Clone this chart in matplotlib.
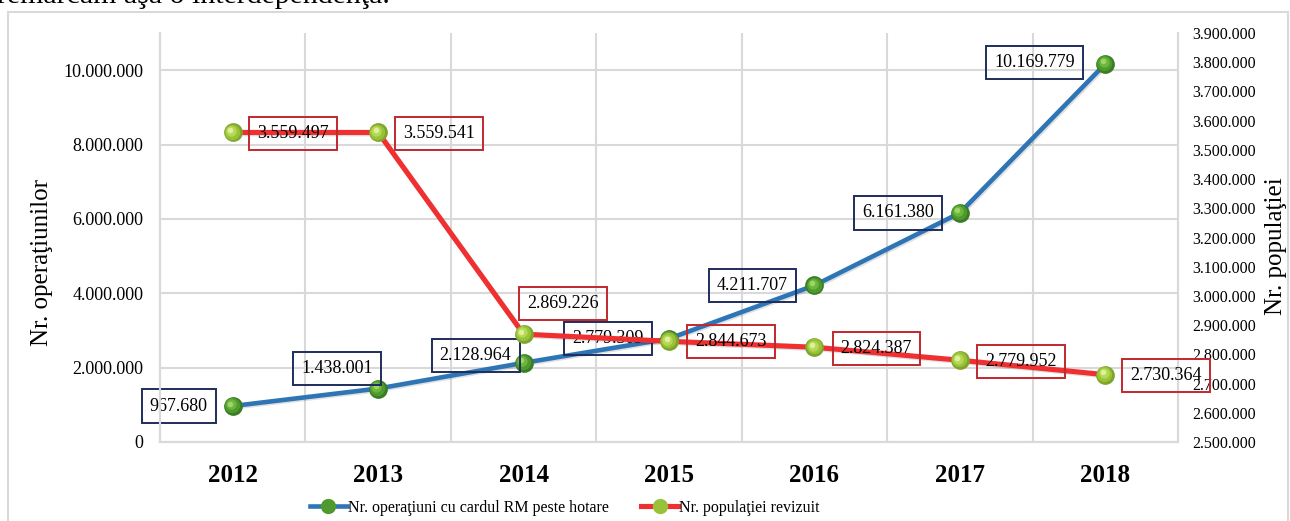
import matplotlib
matplotlib.use("Agg")
import matplotlib.pyplot as plt
from matplotlib.ticker import FuncFormatter, MultipleLocator
from matplotlib.transforms import offset_copy
from matplotlib.lines import Line2D
from matplotlib.patches import Rectangle
import matplotlib.patheffects as pe

plt.rcParams['font.family'] = ['Liberation Serif', 'DejaVu Serif']

# data
years = ['2012', '2013', '2014', '2015', '2016', '2017', '2018']
operatiuni = [967680, 1438001, 2128964, 2779309, 4211707, 6161380, 10169779]
populatie = [3559497, 3559541, 2869226, 2844673, 2824387, 2779952, 2730364]
ops_label = 'Nr. operaţiuni cu cardul RM peste hotare'
pop_label = 'Nr. populaţiei revizuit'

# label offsets (pixels) from each point
ops_off = [(-54, 0), (-41, 20), (-48, 7), (-61, 0), (-62, 0), (-62, 0), (-71, 1)]
pop_off = [(60, -1), (61, -1), (39, 31), (62, 0), (62, -1), (61, -1), (61, -1)]

W, H = 1290, 521
fig = plt.figure(figsize=(W / 100, H / 100), dpi=100)
fig.patch.set_facecolor('white')

# outer chart border
fig.patches.append(Rectangle((8 / W, -0.1), 1280 / W, (H - 12) / H + 0.1,
                             transform=fig.transFigure, fill=False,
                             edgecolor='#d9d9d9', lw=1.5))
# clipped body text above the chart (cut off in the source too)
fig.text(-3 / W, 1 - 3 / H, 'remarcăm aşa o interdependenţă.', fontsize=21.5,
         va='baseline', ha='left', color='black')

ax = fig.add_axes([160 / W, (H - 442) / H, 1018 / W, 409 / H])
ax2 = ax.twinx()

x = list(range(len(years)))
ax.set_xlim(-0.5, 6.5)
ax.set_ylim(0, 11000000)
ax2.set_ylim(2500000, 3900000)
ax.yaxis.set_major_locator(MultipleLocator(2000000))
fmt = FuncFormatter(lambda v, p: f"{int(round(v)):,}".replace(",", "."))
ax.yaxis.set_major_formatter(fmt)
ax2.yaxis.set_major_formatter(fmt)
ax2.set_yticks([t for t in range(2500000, 3900001, 100000)])

ax.set_xticks(x)
ax.set_xticklabels(years, fontsize=18, fontweight='bold')
ax.tick_params(axis='x', length=0, pad=16)
ax.tick_params(axis='y', length=0, pad=12, labelsize=13)
ax2.tick_params(axis='y', length=0, pad=10, labelsize=11.5)

grid_c = '#d9d9d9'
ax.grid(axis='y', color=grid_c, lw=1.5)
for xv in [i + 0.5 for i in range(6)]:
    ax.axvline(xv, color=grid_c, lw=1.5, zorder=0.5)
ax.set_axisbelow(True)
for a in (ax, ax2):
    a.spines['top'].set_visible(False)
    for s in ('left', 'right', 'bottom'):
        a.spines[s].set_color(grid_c)
        a.spines[s].set_linewidth(1.5)

shadow = [pe.SimpleLineShadow(offset=(1, -1), alpha=0.12), pe.Normal()]
ax.plot(x, operatiuni, color='#2e75b6', lw=3.3, zorder=3, path_effects=shadow,
        solid_capstyle='round')
ax2.plot(x, populatie, color='#f03030', lw=3.7, zorder=3, path_effects=shadow,
         solid_capstyle='round')


def spheres(a, xs, ys, layers):
    for size, color, d in layers:
        tr = offset_copy(a.transData, fig=fig, x=-d, y=d, units='points')
        a.plot(xs, ys, 'o', ms=size, mfc=color, mec='none', transform=tr,
               zorder=4)


spheres(ax, x, operatiuni, [(13.5, '#3a7d25', 0), (11, '#4f9a2e', 0.6),
                            (7.5, '#6cb63c', 1.2), (4, '#9ed46a', 1.8)])
spheres(ax2, x, populatie, [(13.5, '#7ea52a', 0), (11, '#98c23a', 0.6),
                            (7.5, '#b6d955', 1.2), (4, '#def09a', 1.8)])


def labels(a, xs, ys, offs, edge):
    for xi, yi, (dx, dy) in zip(xs, ys, offs):
        a.annotate(f"{yi:,}".replace(",", "."), (xi, yi),
                   xytext=(dx * 0.72, dy * 0.72), textcoords='offset points',
                   ha='center', va='center', fontsize=13, zorder=5,
                   bbox=dict(boxstyle='square,pad=0.45', fc='none',
                             ec=edge, lw=1.4))


labels(ax, x, operatiuni, ops_off, '#1f2d5c')
labels(ax2, x, populatie, pop_off, '#c0282d')

fig.text(42 / W, 1 - 262 / H, 'Nr. operaţiunilor', rotation=90, fontsize=18,
         ha='center', va='center')
fig.text(1276 / W, 1 - 246 / H, 'Nr. populaţiei', rotation=90, fontsize=18,
         ha='center', va='center')

h1 = Line2D([], [], color='#2e75b6', lw=3.3, marker='o', ms=11,
            mfc='#4f9a2e', mec='none')
h2 = Line2D([], [], color='#f03030', lw=3.7, marker='o', ms=11,
            mfc='#98c23a', mec='none')
fig.legend([h1, h2], [ops_label, pop_label], loc='center left',
           bbox_to_anchor=(310 / W, 13 / H), ncol=2, frameon=False,
           fontsize=11.5, handlelength=2.3, handletextpad=0.1,
           columnspacing=2.0, borderaxespad=0, borderpad=0)

fig.savefig('out.png', dpi=100)
